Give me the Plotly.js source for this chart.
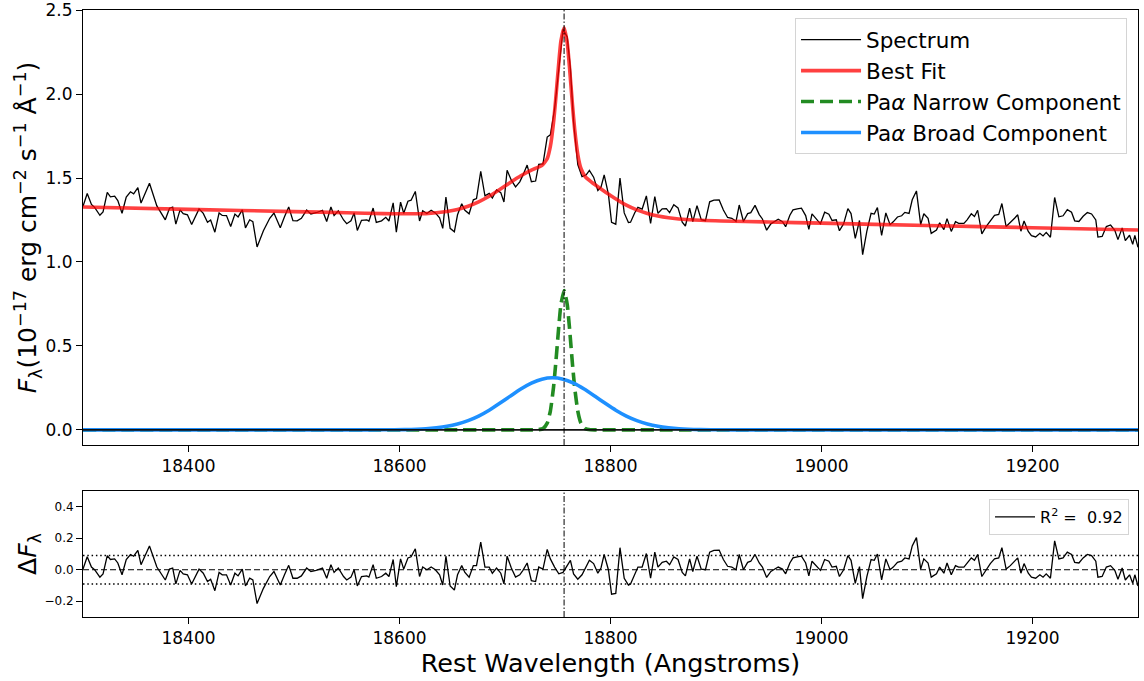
<!DOCTYPE html>
<html>
<head>
<meta charset="utf-8">
<script src="https://cdn.plot.ly/plotly-3.0.1.min.js"></script>
<style>html,body{margin:0;padding:0;background:#fff;}#chart{width:1144px;height:681px;}</style>
</head>
<body>
<div id="chart"></div>
<script>
// ---- Data ----
// Observed spectrum (rest wavelength in Angstroms, flux in 1e-17 erg/cm2/s/A)
const specWave = [18300,18304,18308,18311,18316,18319,18323,18326,18330,18333,18337,18341,18345,18348,18352,18355,18363,18370,18378,18382,18385,18388,18392,18395,18399,18403,18410,18414,18418,18421,18425,18429,18432,18436,18440,18444,18447,18451,18454,18458,18461,18465,18471,18477,18481,18487,18491,18495,18499,18503,18507,18512,18516,18521,18527,18531,18535,18538,18542,18547,18550,18554,18557,
18560,18564,18569,18571,18575,18578,18583,18587,18590,18594,18597,18601,18604,18608,18611,18615,18619,18622,18626,18630,18634,18638,18641,18644,18648,18652,18655,18659,18662,18666,18670,18673,18677,18681,18685,18688,18692,18696,18699,18702,18706,18710,18714,18717,18721,18725,18729,18732,18736,18740,18743,18747,18751,18755,18759,18762,18765,18769,18773,18777,18780,18784,18788,18791,18794,18798,18801,18805,18809,18813,18817,
18819,18823,18826,18830,18834,18838,18842,18845,18849,18853,18856,18860,18864,18868,18871,18875,18878,18882,18886,18890,18894,18898,18903,18907,18911,18915,18919,18922,18926,18930,18933,18937,18941,18944,18948,18952,18955,18959,18963,18966,18970,18973,18977,18981,18985,18988,18991,18995,18999,19003,19007,19010,19014,19017,19021,19025,19028,19032,19036,19039,19043,19047,19050,19053,
19057,19061,19065,19068,19072,19076,19079,19083,19086,19090,19094,19097,19101,19104,19109,19112,19116,19119,19123,19127,19130,19135,19138,19142,19145,19148,19152,19156,19160,19164,19168,19171,19175,19179,19183,19186,19189,19192,19196,19199,19203,19207,19210,19213,19217,19221,19225,19229,19233,19237,19240,19244,19248,19252,19256,19260,19262,19266,19270,19274,19278,19281,19285,19288,19292,19295,19297,19300];

const specFlux = [1.331,1.408,1.343,1.325,1.278,1.298,1.414,1.388,1.392,1.365,1.290,1.386,1.418,1.406,1.443,1.351,1.469,1.334,1.251,1.320,1.326,1.225,1.310,1.288,1.281,1.223,1.316,1.289,1.236,1.250,1.177,1.292,1.277,1.276,1.211,1.285,1.268,1.310,1.203,1.251,1.240,1.089,1.186,1.260,1.291,1.204,1.269,1.328,1.246,1.245,1.260,1.309,1.286,1.293,1.307,1.241,1.327,1.277,1.305,1.250,1.228,1.245,1.292,
1.188,1.248,1.251,1.243,1.321,1.235,1.245,1.266,1.244,1.352,1.178,1.356,1.290,1.362,1.368,1.420,1.244,1.305,1.289,1.308,1.292,1.263,1.200,1.386,1.200,1.180,1.281,1.346,1.308,1.287,1.370,1.378,1.540,1.394,1.408,1.381,1.429,1.413,1.357,1.546,1.487,1.447,1.477,1.517,1.577,1.478,1.482,1.581,1.584,1.744,1.757,1.911,2.163,2.385,2.340,2.153,1.833,1.580,1.508,1.519,1.545,1.505,1.426,1.446,1.518,1.404,1.236,1.225,1.499,1.292,1.235,
1.237,1.293,1.325,1.315,1.393,1.229,1.389,1.290,1.316,1.318,1.294,1.341,1.322,1.237,1.214,1.320,1.240,1.335,1.252,1.246,1.358,1.368,1.369,1.309,1.265,1.260,1.242,1.339,1.241,1.288,1.294,1.337,1.282,1.256,1.189,1.227,1.237,1.254,1.240,1.210,1.278,1.310,1.316,1.320,1.276,1.194,1.286,1.258,1.227,1.296,1.284,1.247,1.251,1.186,1.228,1.318,1.288,1.141,1.247,1.043,1.183,1.290,1.285,1.324,
1.158,1.292,1.222,1.239,1.268,1.275,1.295,1.289,1.370,1.423,1.222,1.287,1.260,1.170,1.190,1.233,1.193,1.258,1.182,1.240,1.230,1.230,1.251,1.287,1.271,1.308,1.167,1.210,1.248,1.278,1.283,1.348,1.211,1.233,1.260,1.281,1.183,1.244,1.182,1.157,1.149,1.171,1.155,1.176,1.147,1.384,1.269,1.275,1.311,1.296,1.245,1.241,1.272,1.294,1.286,1.250,1.148,1.152,1.211,1.220,1.189,1.133,1.203,1.127,1.159,1.105,1.158,1.087];

// Residuals (spectrum - fit), same wavelengths as the spectrum
const residFlux = [0.004,0.082,0.017,0.0,-0.047,-0.026,0.090,0.065,0.069,0.043,-0.032,0.065,0.097,0.086,0.123,0.032,0.151,0.017,-0.065,0.004,0.011,-0.090,-0.004,-0.026,-0.032,-0.090,0.004,-0.022,-0.075,-0.060,-0.133,-0.017,-0.032,-0.032,-0.097,-0.022,-0.039,0.004,-0.103,-0.054,-0.065,-0.215,-0.118,-0.043,-0.011,-0.097,-0.032,0.028,-0.054,-0.054,-0.039,0.011,-0.011,-0.004,0.011,-0.054,0.032,-0.017,0.011,-0.043,-0.065,-0.047,0.0,
-0.103,-0.043,-0.039,-0.047,0.032,-0.054,-0.043,-0.022,-0.043,0.065,-0.108,0.069,0.004,0.075,0.082,0.133,-0.043,0.017,0.0,0.017,0.0,-0.032,-0.097,0.086,-0.103,-0.129,-0.032,0.026,-0.017,-0.047,0.026,0.026,0.176,0.017,0.017,-0.022,0.011,-0.022,-0.090,0.086,0.011,-0.047,-0.032,-0.004,0.043,-0.069,-0.075,0.017,0.004,0.129,0.069,0.017,-0.026,-0.017,0.026,0.060,-0.026,-0.060,-0.032,0.017,0.060,0.039,-0.022,0.011,0.097,0.0,-0.155,-0.150,0.140,-0.054,-0.097,
-0.090,-0.022,0.017,0.017,0.103,-0.054,0.112,0.017,0.047,0.054,0.032,0.082,0.065,-0.017,-0.039,0.069,-0.011,0.086,0.004,0.0,0.112,0.123,0.125,0.065,0.022,0.017,0.0,0.097,0.0,0.047,0.054,0.097,0.043,0.017,-0.049,-0.011,0.0,0.017,0.004,-0.026,0.043,0.075,0.082,0.086,0.043,-0.039,0.054,0.026,-0.004,0.065,0.054,0.017,0.022,-0.043,0.0,0.090,0.060,-0.086,0.020,-0.183,-0.043,0.065,0.060,0.100,
-0.065,0.069,0.0,0.017,0.047,0.054,0.075,0.069,0.151,0.204,0.004,0.069,0.043,-0.047,-0.026,0.017,-0.022,0.043,-0.032,0.026,0.017,0.017,0.039,0.075,0.060,0.097,-0.043,0.0,0.039,0.069,0.075,0.140,0.004,0.026,0.054,0.075,-0.022,0.039,-0.022,-0.047,-0.054,-0.032,-0.047,-0.026,-0.054,0.183,0.069,0.075,0.112,0.097,0.047,0.043,0.075,0.097,0.090,0.054,-0.047,-0.043,0.017,0.026,-0.004,-0.060,0.011,-0.065,-0.032,-0.086,-0.032,-0.103];

// Best-fit model curve
const fitWave = [18300,18400,18500,18550,18585,18605,18625,18645,18655,18665,18675,18685,18695,18705,18715,18725,18730,18735,18740,18743,18746,18748,18751,18753,18756,18759,18761,18764,18766,18769,18772,18776,18782,18790,18800,18815,18825,18835,18845,18855,18875,18905,18950,19000,19100,19200,19300];
const fitFlux = [1.327,1.313,1.300,1.293,1.288,1.287,1.288,1.301,1.313,1.332,1.358,1.391,1.431,1.473,1.513,1.547,1.560,1.575,1.615,1.688,1.830,1.964,2.189,2.316,2.394,2.304,2.170,1.933,1.792,1.640,1.557,1.508,1.475,1.439,1.396,1.338,1.310,1.289,1.273,1.263,1.251,1.244,1.238,1.231,1.217,1.204,1.190];

// Pa-alpha narrow component
const narrowWave = [18300,18726,18731,18736,18740,18743,18746,18748,18751,18753,18756,18759,18761,18764,18766,18769,18772,18776,18781,18786,19300];
const narrowFlux = [0,0,0.0005,0.0073,0.040,0.112,0.254,0.389,0.617,0.746,0.830,0.746,0.617,0.389,0.254,0.112,0.040,0.0073,0.0005,0,0];

// Pa-alpha broad component
const broadWave = [18300,18565,18585,18605,18625,18635,18645,18655,18665,18675,18685,18695,18705,18715,18725,18735,18745,18755,18765,18775,18785,18795,18805,18815,18825,18835,18845,18855,18865,18885,18905,18925,19300];
const broadFlux = [0,0,0.0003,0.0015,0.0063,0.012,0.021,0.035,0.055,0.082,0.117,0.158,0.201,0.243,0.278,0.302,0.310,0.302,0.278,0.243,0.201,0.158,0.117,0.082,0.055,0.035,0.021,0.012,0.0063,0.0015,0.0003,0,0];

const lineCenter = 18756;   // Pa-alpha rest wavelength (dash-dot marker)
const residSigma = 0.09;    // dotted band in residual panel
const rSquared = '0.92';
const xTicks = [18400,18600,18800,19000,19200];
const yTicksTop = [0,0.5,1.0,1.5,2.0,2.5];
const yTicksBottom = [-0.2,0,0.2,0.4];

// ---- Traces ----
const traces = [
  {x:specWave, y:specFlux, type:'scatter', mode:'lines', name:'Spectrum',
   line:{color:'black', width:1.3}, xaxis:'x', yaxis:'y', legend:'legend'},
  {x:fitWave, y:fitFlux, type:'scatter', mode:'lines', name:'Best Fit',
   line:{color:'rgba(255,0,0,0.75)', width:3.6, shape:'spline', smoothing:0.5}, xaxis:'x', yaxis:'y', legend:'legend'},
  {x:narrowWave, y:narrowFlux, type:'scatter', mode:'lines', name:'Pa<i>α</i> Narrow Component',
   line:{color:'#228B22', width:3.6, dash:'13px,6px', shape:'spline', smoothing:0.5}, xaxis:'x', yaxis:'y', legend:'legend'},
  {x:broadWave, y:broadFlux, type:'scatter', mode:'lines', name:'Pa<i>α</i> Broad Component',
   line:{color:'#1E90FF', width:3.6, shape:'spline', smoothing:0.5}, xaxis:'x', yaxis:'y', legend:'legend'},
  {x:specWave, y:residFlux, type:'scatter', mode:'lines', name:'R<sup>2</sup> =  ' + rSquared,
   line:{color:'black', width:1.3}, xaxis:'x2', yaxis:'y2', legend:'legend2'}
];

const axisCommon = {
  showline:true, mirror:true, linecolor:'black', linewidth:1,
  ticks:'outside', ticklen:6, tickwidth:1, tickcolor:'black',
  showgrid:false, zeroline:false, automargin:false
};

const layout = {
  width:1144, height:681,
  margin:{l:83, r:6, t:10, b:64, pad:0},
  paper_bgcolor:'white', plot_bgcolor:'white',
  font:{family:'DejaVu Sans, sans-serif', color:'black'},
  xaxis:Object.assign({}, axisCommon, {domain:[0,1], anchor:'y', range:[18300,19300],
    tickvals:xTicks, tickformat:'d', tickfont:{size:17}}),
  yaxis:Object.assign({}, axisCommon, {domain:[0.2834,1], anchor:'x', range:[-0.09,2.5005],
    tickvals:yTicksTop, tickformat:'.1f', tickfont:{size:17},
    title:{text:'<i>F</i><sub>λ</sub>(10<sup>−17</sup> erg cm<sup>−2</sup> s<sup>−1</sup> Å<sup>−1</sup>)', font:{size:25}, standoff:0}}),
  xaxis2:Object.assign({}, axisCommon, {domain:[0,1], anchor:'y2', range:[18300,19300],
    tickvals:xTicks, tickformat:'d', tickfont:{size:17},
    title:{text:'Rest Wavelength (Angstroms)', font:{size:25.5}, standoff:4}}),
  yaxis2:Object.assign({}, axisCommon, {domain:[0,0.2076], anchor:'x2', range:[-0.3,0.5],
    tickvals:yTicksBottom, tickformat:'.1f', tickfont:{size:12},
    title:{text:'Δ<i>F</i><sub>λ</sub>', font:{size:25}, standoff:0}}),
  showlegend:true,
  legend:{x:0.9896, xanchor:'right', y:0.9865, yanchor:'top',
    bgcolor:'rgba(255,255,255,0.85)', bordercolor:'#d4d4d4', borderwidth:1,
    font:{size:21.5}, tracegroupgap:0, itemwidth:60},
  legend2:{x:0.9915, xanchor:'right', y:0.1944, yanchor:'top',
    bgcolor:'rgba(255,255,255,0.85)', bordercolor:'#d4d4d4', borderwidth:1,
    font:{size:16}, itemwidth:40},
  shapes:[
    {type:'line', xref:'x domain', yref:'y', x0:0, x1:1, y0:0, y1:0, layer:'above',
     line:{color:'#111', width:1.6}},
    {type:'line', xref:'x', yref:'y domain', x0:lineCenter, x1:lineCenter, y0:0, y1:1, layer:'above',
     line:{color:'black', width:1, dash:'6px,2px,1.5px,2px'}},
    {type:'line', xref:'x2', yref:'y2 domain', x0:lineCenter, x1:lineCenter, y0:0, y1:1, layer:'above',
     line:{color:'black', width:1, dash:'6px,2px,1.5px,2px'}},
    {type:'line', xref:'x2 domain', yref:'y2', x0:0, x1:1, y0:0, y1:0, layer:'below',
     line:{color:'black', width:1, dash:'6px,3px'}},
    {type:'line', xref:'x2 domain', yref:'y2', x0:0, x1:1, y0:residSigma, y1:residSigma, layer:'below',
     line:{color:'black', width:1.5, dash:'1.5px,2.8px'}},
    {type:'line', xref:'x2 domain', yref:'y2', x0:0, x1:1, y0:-residSigma, y1:-residSigma, layer:'below',
     line:{color:'black', width:1.5, dash:'1.5px,2.8px'}}
  ]
};

Plotly.newPlot('chart', traces, layout, {displayModeBar:false, staticPlot:true});
</script>
</body>
</html>
